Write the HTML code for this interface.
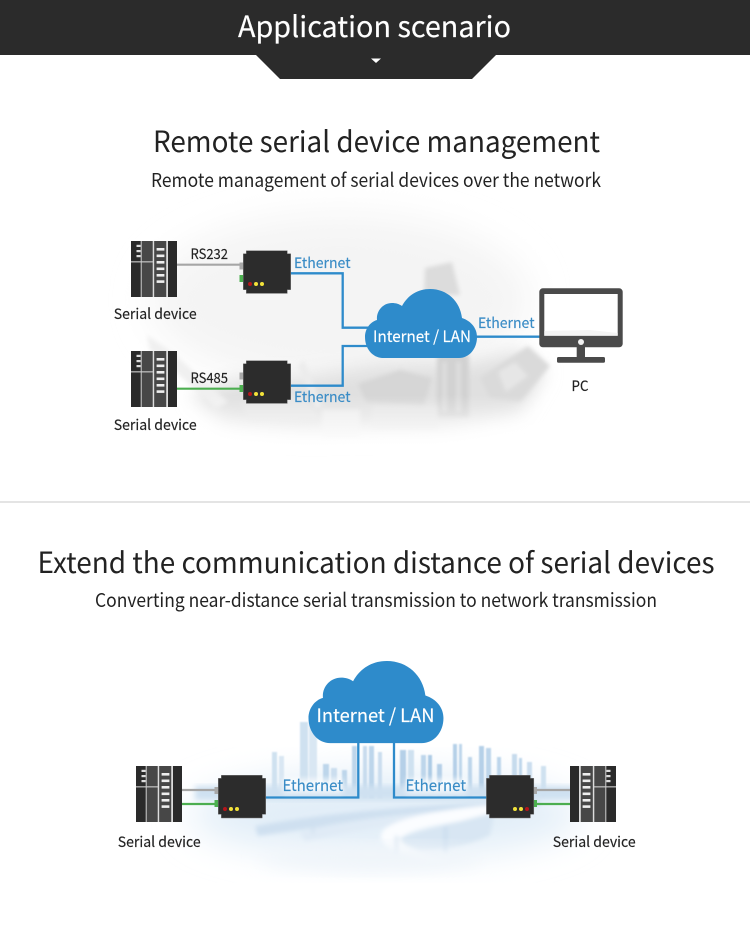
<!DOCTYPE html>
<html><head><meta charset="utf-8"><style>
html,body{margin:0;padding:0;background:#fff;width:750px;height:934px;overflow:hidden}
svg{display:block}
text{font-family:"Noto Sans CJK SC","Noto Sans CJK JP","Liberation Sans",sans-serif;fill:#222;stroke:#222;stroke-width:.15px}
.h{stroke-width:0}
.e{fill:#3a8cc6;stroke:#3a8cc6;font-size:14.5px}
.w{fill:#fff;stroke:#fff}
.s{font-size:14.5px}
</style></head><body>
<svg width="750" height="934" viewBox="0 0 750 934" xmlns="http://www.w3.org/2000/svg">
<defs>
<filter id="b20" x="-30%" y="-30%" width="160%" height="160%"><feGaussianBlur stdDeviation="18"/></filter>
<filter id="b8" x="-30%" y="-30%" width="160%" height="160%"><feGaussianBlur stdDeviation="9"/></filter>
<filter id="b3" x="-20%" y="-20%" width="140%" height="140%"><feGaussianBlur stdDeviation="3"/></filter>
<filter id="b2" x="-10%" y="-10%" width="120%" height="120%"><feGaussianBlur stdDeviation="2.200"/></filter>
<filter id="b1" x="-10%" y="-10%" width="120%" height="120%"><feGaussianBlur stdDeviation="0.7"/></filter>
<filter id="g" x="-20%" y="-30%" width="140%" height="160%"><feGaussianBlur stdDeviation="3"/></filter>
<linearGradient id="fadeF" gradientUnits="userSpaceOnUse" x1="0" y1="395" x2="0" y2="450"><stop offset="0" stop-color="#fff" stop-opacity="0"/><stop offset="1" stop-color="#fff" stop-opacity="1"/></linearGradient>
<path id="cloud" d="M18 69C8 69 0 60 0 48C0 40 5 33 12 31C11 22 18 14 27 14C31 14 34 15 37 17C43 6 53 0 65 0C82 0 95 12 97 29C106 32 112 39 112 48C112 60 104 69 94 69Z" fill="#2e8bcb"/>
<g id="rack">
<rect x="0" y="0" width="46" height="56" fill="#2a2a2a"/>
<rect x="10.500" y="0" width="11.300" height="56" fill="#474747"/>
<rect x="23.200" y="0" width="12" height="56" fill="#474747"/>
<rect x="9.700" y="0" width="1" height="56" fill="#cfcfcf"/>
<rect x="21.700" y="0" width="1.500" height="56" fill="#dcdcdc"/>
<rect x="35.200" y="0" width="1.800" height="56" fill="#dcdcdc"/>
<rect x="0" y="20.300" width="22" height="1.100" fill="#cfcfcf"/>
<g fill="#eee"><rect x="25.600" y="7" width="7.800" height="2.600"/><rect x="25.600" y="13.500" width="7.800" height="2.600"/><rect x="25.600" y="20" width="7.800" height="2.600"/><rect x="25.600" y="26.500" width="7.800" height="2.600"/><rect x="25.600" y="33" width="7.800" height="2.600"/><rect x="25.600" y="39.300" width="7.800" height="2.600"/></g>
<g fill="#ddd"><rect x="5.500" y="3.800" width="4.200" height="2.200"/><rect x="5.500" y="9" width="4.200" height="2.200"/><rect x="5.500" y="14" width="4.200" height="2.200"/></g>
</g>
<path id="boxbody" d="M3 0H44V3H47.400V39H44V42.700H3V39H0V3H3Z" fill="#2c2c2c" stroke="#777" stroke-width=".5"/>
</defs>

<!-- header -->
<rect x="0" y="0" width="750" height="55" fill="#2b2b2b"/>
<polygon points="256,55 496,55 472,79 280,79" fill="#2b2b2b"/>
<polygon points="371,58.500 381,58.500 376,63" fill="#fff"/>
<text class="w" x="374.500" y="37" text-anchor="middle" font-size="29" textLength="273" lengthAdjust="spacingAndGlyphs">Application scenario</text>

<!-- headings -->
<text class="h" x="376.500" y="152" text-anchor="middle" font-size="29" textLength="447" lengthAdjust="spacingAndGlyphs">Remote serial device management</text>
<text class="h" x="376" y="187" text-anchor="middle" font-size="19" textLength="450" lengthAdjust="spacingAndGlyphs">Remote management of serial devices over the network</text>
<rect x="0" y="501" width="750" height="2" fill="#e4e4e4"/>
<text class="h" x="376" y="573" text-anchor="middle" font-size="29" textLength="677" lengthAdjust="spacingAndGlyphs">Extend the communication distance of serial devices</text>
<text class="h" x="376" y="607" text-anchor="middle" font-size="19" textLength="562" lengthAdjust="spacingAndGlyphs">Converting near-distance serial transmission to network transmission</text>

<!-- factory haze -->
<ellipse cx="340" cy="300" rx="190" ry="85" fill="#f4f4f4" filter="url(#b20)"/>
<path d="M190 395L240 378L300 378L380 365L470 362L520 350L545 372L520 415L440 432L300 435L225 425Z" fill="#e0e0e0" filter="url(#b8)"/>
<g filter="url(#b2)">
<path d="M147 335L172 352L228 402L216 408L168 365L150 350Z" fill="#f0f0f0"/>
<path d="M425 268L452 262L460 295L424 295Z" fill="#dcdcdc"/>
<rect x="437" y="355" width="32" height="62" fill="#d2d2d2"/>
<rect x="443" y="362" width="3" height="50" fill="#e4e4e4"/>
<rect x="457" y="362" width="3" height="50" fill="#e4e4e4"/>
<path d="M304 360L322 405L316 408L298 366Z" fill="#ececec"/>
<rect x="322" y="410" width="38" height="28" fill="#ececec"/>
<rect x="372" y="405" width="66" height="24" fill="#e4e4e4"/>
<path d="M480 378L528 346L550 366L520 402L490 398Z" fill="#dadada"/>
<path d="M498 372L515 362L528 376L506 392Z" fill="#e6e6e6"/>
<path d="M358 384L400 370L432 378L424 405L366 402Z" fill="#d6d6d6"/>
<path d="M240 402L300 392L320 418L250 422Z" fill="#e4e4e4"/>
</g>
<rect x="150" y="395" width="420" height="60" fill="url(#fadeF)"/>

<!-- city haze -->
<ellipse cx="385" cy="815" rx="195" ry="42" fill="#e2eef8" filter="url(#b20)"/>
<g filter="url(#b1)" fill="#bdd6eb">
<rect x="300" y="722" width="8" height="76" fill="#cfe1f0"/><rect x="309" y="722" width="8" height="76" fill="#d9e7f3"/>
<rect x="272" y="752" width="5" height="44" fill="#cfe1f0"/><rect x="279" y="756" width="5" height="40" fill="#d9e7f3"/>
<rect x="323" y="764" width="6" height="34"/><rect x="331" y="768" width="6" height="30" fill="#cbdeef"/>
<rect x="342" y="770" width="5" height="28"/><rect x="352" y="746" width="5" height="52"/>
<rect x="363" y="746" width="4" height="52" fill="#c8dcee"/><rect x="369" y="746" width="5" height="52"/>
<rect x="378" y="752" width="4" height="46" fill="#cbdeef"/>
<rect x="400" y="750" width="6" height="48" fill="#b5d0e8"/><rect x="408" y="750" width="6" height="48" fill="#cfe1f0"/>
<rect x="421" y="755" width="5" height="43"/><rect x="428" y="755" width="4" height="43" fill="#adcbe5"/>
<rect x="437" y="764" width="5" height="34" fill="#b5d0e8"/>
<rect x="453" y="744" width="4" height="54" fill="#b5d0e8"/><rect x="459" y="744" width="3" height="54"/>
<rect x="468" y="757" width="4" height="41"/>
<rect x="479" y="746" width="5" height="52" fill="#b5d0e8"/><rect x="486" y="748" width="5" height="50"/>
<rect x="497" y="757" width="4" height="41"/>
<rect x="512" y="754" width="5" height="44" fill="#c6dbed"/><rect x="519" y="758" width="3" height="40"/>
<rect x="527" y="762" width="5" height="36" fill="#cbdeef"/>
<rect x="541" y="766" width="5" height="30" fill="#cfe1f0"/>
</g>
<path d="M195 786H575V800H195Z" fill="#cfe1f1" filter="url(#b3)"/>
<g filter="url(#b2)">
<path d="M255 826C330 812 430 804 540 800L540 806C430 812 350 822 258 836Z" fill="#cfe0f0"/>
<path d="M300 832C340 820 420 812 500 806L495 812C420 820 350 830 305 842Z" fill="#e0ebf6"/>
<path d="M382 832C394 816 450 808 520 802L500 816C450 822 410 828 402 838C408 850 426 856 450 862C405 862 375 848 382 832Z" fill="#fbfdff"/>
<path d="M400 838C420 830 460 822 495 812L490 835C460 850 430 850 420 850C410 848 402 845 400 838Z" fill="#d8e6f3"/>
<rect x="312" y="818" width="2" height="16" fill="#cfdfee"/>
<rect x="444" y="826" width="3" height="26" fill="#c9dcee"/>
<rect x="395" y="836" width="3" height="18" fill="#d5e3f0"/>
</g>
<ellipse cx="370" cy="858" rx="110" ry="12" fill="#f0f5fa" filter="url(#b8)"/>

<!-- first diagram lines -->
<path d="M177 264.700H240" stroke="#a6a6a6" stroke-width="2.200" fill="none"/>
<path d="M177 388.700H240" stroke="#4cae50" stroke-width="2.200" fill="none"/>
<path d="M290 273.300H342.700V327.700H372" stroke="#2e8bcb" stroke-width="2.300" fill="none"/>
<path d="M290 385.700H342.700V346H372" stroke="#2e8bcb" stroke-width="2.300" fill="none"/>
<path d="M470 336.700H541" stroke="#2e8bcb" stroke-width="2.300" fill="none"/>

<use href="#rack" x="131" y="241"/>
<use href="#rack" x="131" y="351"/>
<g>
<rect x="239.500" y="262.500" width="4" height="7" fill="#a8a8a8"/><rect x="239.500" y="275" width="4" height="7" fill="#4cb050"/>
<use href="#boxbody" x="243.300" y="250.700"/>
<circle cx="250" cy="284" r="2" fill="#b3161b"/><circle cx="256" cy="284" r="2" fill="#f2e23a"/><circle cx="262" cy="284" r="2" fill="#f2e23a"/>
</g>
<g>
<rect x="239.500" y="372.500" width="4" height="7" fill="#a8a8a8"/><rect x="239.500" y="385" width="4" height="7" fill="#4cb050"/>
<use href="#boxbody" x="243.300" y="360.700"/>
<circle cx="250" cy="394" r="2" fill="#b3161b"/><circle cx="256" cy="394" r="2" fill="#f2e23a"/><circle cx="262" cy="394" r="2" fill="#f2e23a"/>
</g>
<use href="#cloud" transform="translate(365 289)"/>

<!-- PC -->
<rect x="539.300" y="288.300" width="83.400" height="59" rx="3.500" fill="#4a4a4a"/>
<rect x="544.300" y="294" width="73.400" height="41.700" fill="#fff"/>
<path d="M544.300 335.700V331L590 330L617.700 333V335.700Z" fill="#f4f4f4"/>
<circle cx="581" cy="342" r="3" fill="#f2f2f2"/>
<rect x="576.700" y="347" width="8.300" height="10.500" fill="#4a4a4a"/>
<rect x="557" y="357" width="48" height="5.700" rx="1.500" fill="#4a4a4a"/>

<text class="s" x="113.700" y="319" textLength="83" lengthAdjust="spacingAndGlyphs">Serial device</text>
<text class="s" x="113.700" y="430" textLength="83" lengthAdjust="spacingAndGlyphs">Serial device</text>
<text x="190.500" y="259" font-size="14" textLength="37.500" lengthAdjust="spacingAndGlyphs">RS232</text>
<text x="190.500" y="383" font-size="14" textLength="37.500" lengthAdjust="spacingAndGlyphs">RS485</text>
<text class="e" x="294" y="268" textLength="56.500" lengthAdjust="spacingAndGlyphs">Ethernet</text>
<text class="e" x="294" y="402" textLength="56.500" lengthAdjust="spacingAndGlyphs">Ethernet</text>
<text class="e" x="478" y="328" textLength="56.500" lengthAdjust="spacingAndGlyphs">Ethernet</text>
<text class="w" x="373" y="342" font-size="15.500" textLength="98" lengthAdjust="spacingAndGlyphs">Internet / LAN</text>
<text class="s" x="571.500" y="391" textLength="17" lengthAdjust="spacingAndGlyphs">PC</text>

<!-- second diagram lines -->
<path d="M182 790H215" stroke="#a6a6a6" stroke-width="2.200" fill="none"/>
<path d="M182 804H215" stroke="#4cae50" stroke-width="2.200" fill="none"/>
<path d="M537 790H570" stroke="#a6a6a6" stroke-width="2.200" fill="none"/>
<path d="M537 804H570" stroke="#4cae50" stroke-width="2.200" fill="none"/>
<path d="M265 797.500H358.300V740" stroke="#2e8bcb" stroke-width="2.300" fill="none"/>
<path d="M487 797.500H394V740" stroke="#2e8bcb" stroke-width="2.300" fill="none"/>

<use href="#rack" x="136" y="766"/>
<use href="#rack" transform="translate(616 766) scale(-1 1)"/>
<g>
<rect x="214.500" y="787" width="4" height="7" fill="#a8a8a8"/><rect x="214.500" y="800" width="4" height="7" fill="#4cb050"/>
<use href="#boxbody" x="218.300" y="775.300"/>
<circle cx="225" cy="809" r="2" fill="#b3161b"/><circle cx="231" cy="809" r="2" fill="#f2e23a"/><circle cx="237" cy="809" r="2" fill="#f2e23a"/>
</g>
<g>
<rect x="533" y="787" width="4" height="7" fill="#a8a8a8"/><rect x="533" y="800" width="4" height="7" fill="#4cb050"/>
<use href="#boxbody" x="486.400" y="775.300"/>
<circle cx="515" cy="809" r="2" fill="#f2e23a"/><circle cx="521" cy="809" r="2" fill="#f2e23a"/><circle cx="527" cy="809" r="2" fill="#b3161b"/>
</g>
<use href="#cloud" transform="translate(308.500 661) scale(1.205 1.190)"/>

<rect x="283" y="779" width="60" height="14" fill="#fff" opacity=".75" filter="url(#g)"/>
<rect x="406" y="779" width="60" height="14" fill="#fff" opacity=".75" filter="url(#g)"/>
<text class="e" x="282.500" y="791" style="font-size:15.500px" textLength="60.500" lengthAdjust="spacingAndGlyphs">Ethernet</text>
<text class="e" x="405.500" y="791" style="font-size:15.500px" textLength="60.500" lengthAdjust="spacingAndGlyphs">Ethernet</text>
<text class="w" x="316.500" y="722" font-size="18.500" textLength="118" lengthAdjust="spacingAndGlyphs">Internet / LAN</text>
<text class="s" x="117.700" y="847" textLength="83" lengthAdjust="spacingAndGlyphs">Serial device</text>
<text class="s" x="552.700" y="847" textLength="83" lengthAdjust="spacingAndGlyphs">Serial device</text>
</svg>
</body></html>
